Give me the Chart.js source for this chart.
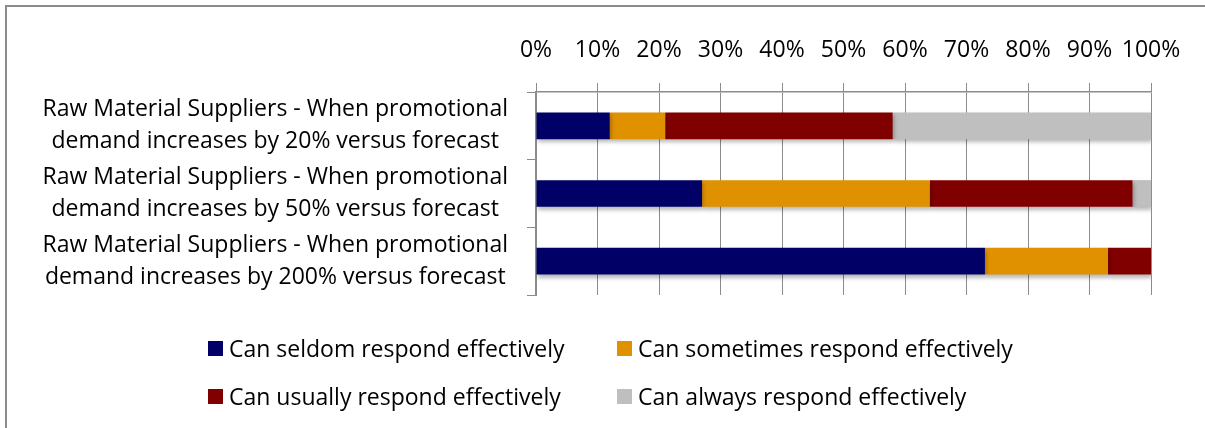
<!DOCTYPE html>
<html>
<head>
<meta charset="utf-8">
<title>Responsiveness to promotional demand</title>
<script src="https://cdn.jsdelivr.net/npm/chart.js@4.4.1/dist/chart.umd.min.js"></script>
<style>
    html, body { margin: 0; padding: 0; background: #fff; }
    #wrap { position: relative; width: 1205px; height: 428px; overflow: hidden; }
    #frame { position: absolute; left: 5px; top: 5px; width: 1300px; height: 500px; border-left: 2px solid #8c8c8c; border-top: 2px solid #8c8c8c; }
    #chart { position: absolute; left: 0; top: 0; }
    .legend-item { position: absolute; font: 23px "Open Sans", sans-serif; color: #000; white-space: nowrap; line-height: 26px; }
    .legend-item i { position: absolute; left: -21px; top: 6px; width: 15px; height: 15px; }
</style>
</head>
<body>
<div id="wrap">
    <div id="frame"></div>
    <canvas id="chart" width="1205" height="428"></canvas>
    <div id="legend"></div>
</div>
<script>
// ─── Data ─────────────────────────────────────────────────────────────────────
const categories = [
    ['Raw Material Suppliers - When promotional', 'demand increases by 20% versus forecast'],
    ['Raw Material Suppliers - When promotional', 'demand increases by 50% versus forecast'],
    ['Raw Material Suppliers - When promotional', 'demand increases by 200% versus forecast']
];
const seriesNames = [
    'Can seldom respond effectively',
    'Can sometimes respond effectively',
    'Can usually respond effectively',
    'Can always respond effectively'
];
const seldom = [12, 27, 73];
const sometimes = [9, 37, 20];
const usually = [37, 33, 7];
const always = [42, 3, 0];
const seriesColors = ['#000066', '#DF9100', '#800000', '#BFBFBF'];
const xTicks = [0, 10, 20, 30, 40, 50, 60, 70, 80, 90, 100];

const FONT = '"Open Sans", sans-serif';
const GRID = '#8c8c8c';

// soft drop shadow under the bars
const barShadow = {
    id: 'barShadow',
    beforeDatasetsDraw(chart) {
        const ctx = chart.ctx;
        ctx.save();
        ctx.shadowColor = 'rgba(0,0,0,0.28)';
        ctx.shadowBlur = 4;
        ctx.shadowOffsetX = 1;
        ctx.shadowOffsetY = 3;
    },
    afterDatasetsDraw(chart) {
        chart.ctx.restore();
    }
};

const values = [seldom, sometimes, usually, always];

new Chart(document.getElementById('chart'), {
    type: 'bar',
    data: {
        labels: categories,
        datasets: values.map((data, i) => ({
            label: seriesNames[i],
            data,
            backgroundColor: seriesColors[i],
            borderWidth: 0,
            categoryPercentage: 1,
            barPercentage: 0.395
        }))
    },
    options: {
        indexAxis: 'y',
        responsive: false,
        animation: false,
        events: [],
        layout: { padding: { left: 0, right: 54, top: 29, bottom: 133 } },
        plugins: { legend: { display: false }, tooltip: { enabled: false } },
        scales: {
            x: {
                position: 'top',
                stacked: true,
                min: 0,
                max: 100,
                afterBuildTicks: scale => { scale.ticks = xTicks.map(v => ({ value: v })); },
                afterFit: scale => { scale.height = 63; },
                grid: { color: GRID, lineWidth: 1, tickLength: 9 },
                border: { color: GRID, width: 1.5 },
                ticks: {
                    color: '#000',
                    padding: 19,
                    maxRotation: 0,
                    font: { family: FONT, size: 23 },
                    callback: v => v + '%'
                }
            },
            y: {
                stacked: true,
                afterFit: scale => { scale.width = 536; },
                grid: { offset: true, drawOnChartArea: false, color: GRID, tickLength: 9 },
                border: { color: GRID, width: 2 },
                ticks: {
                    color: '#000',
                    padding: 19,
                    crossAlign: 'center',
                    font: { family: FONT, size: 23, lineHeight: 1.39 }
                }
            }
        }
    },
    plugins: [barShadow]
});

// ─── Legend (two columns) ─────────────────────────────────────────────────────
const legendPos = [[229, 335], [638, 335], [229, 383], [638, 383]];
document.getElementById('legend').innerHTML = seriesNames.map((name, i) =>
    `<div class="legend-item" style="left:${legendPos[i][0]}px;top:${legendPos[i][1]}px">` +
    `<i style="background:${seriesColors[i]}"></i>${name}</div>`
).join('');
</script>
</body>
</html>
